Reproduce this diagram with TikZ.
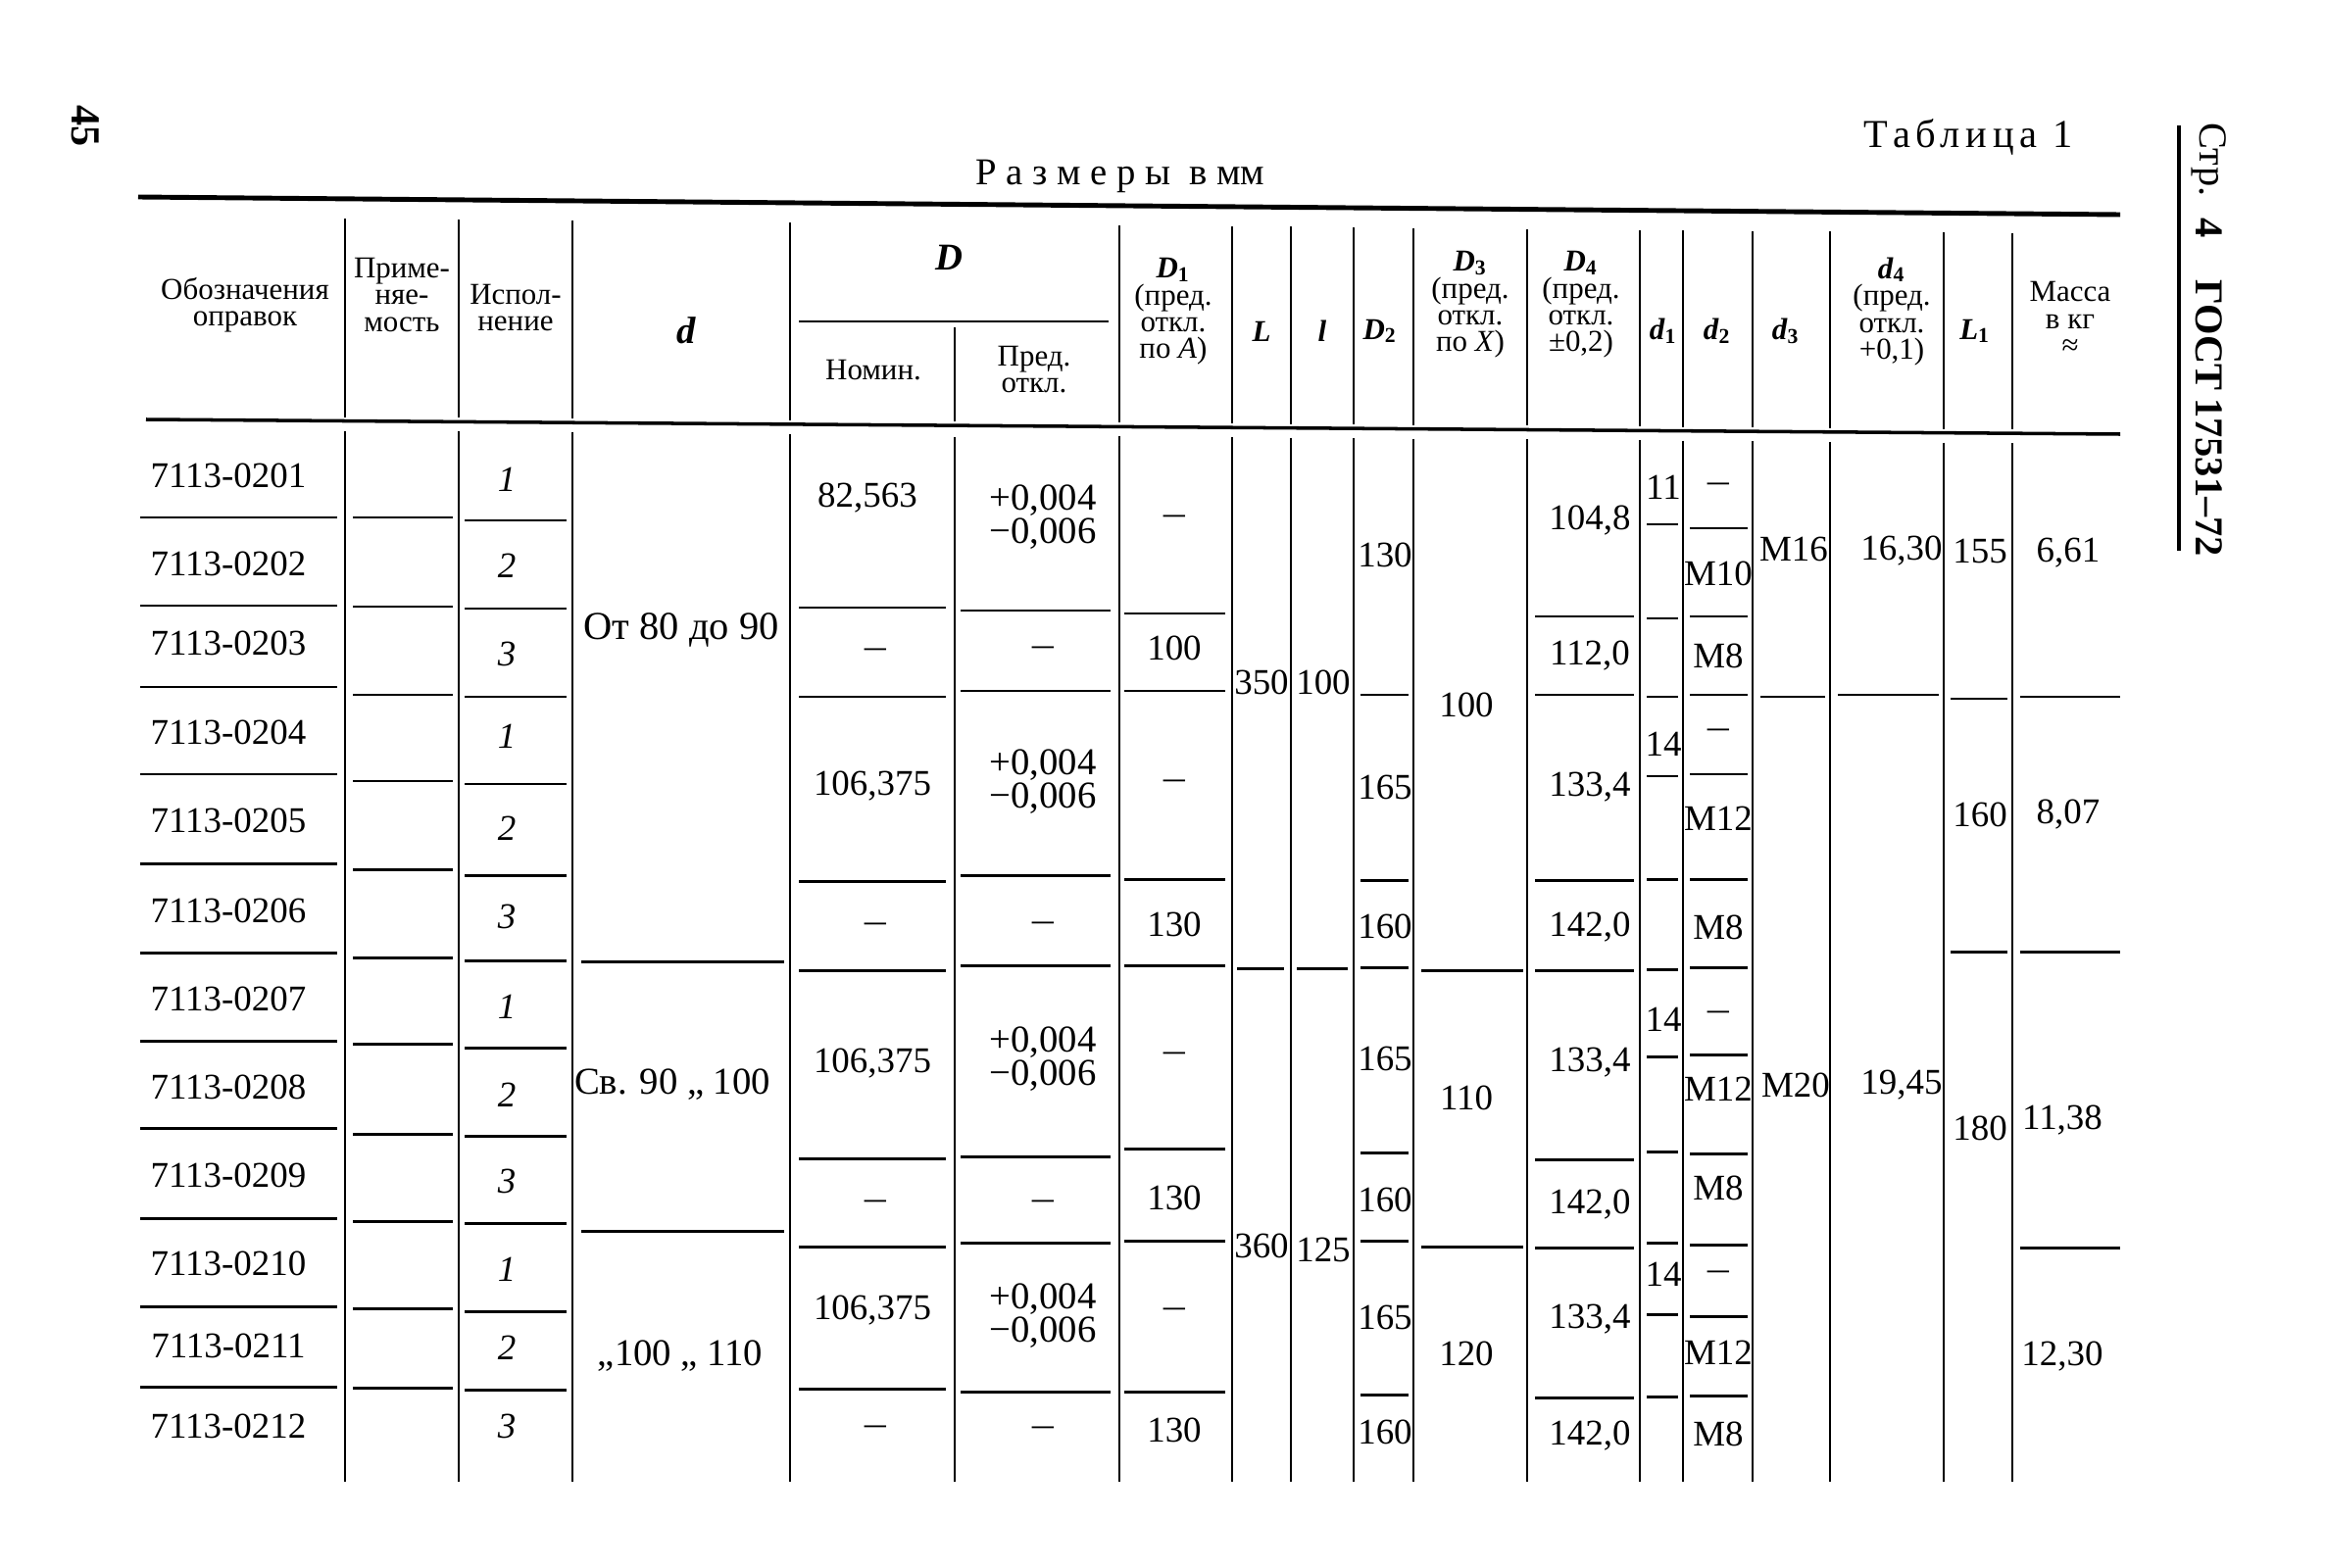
\documentclass[tikz,border=0pt]{standalone}
\usepackage{fontspec}
\usepackage{graphicx}
\setmainfont{Liberation Serif}
\newcommand\cellfont{\fontsize{10.5}{12}\selectfont}
\newcommand\hdfont{\fontsize{8.8}{7.8}\selectfont}
\newcommand\sym[2]{\textbf{\textit{#1}}\textsubscript{\textbf{#2}}}
\newcommand\dash{\scalebox{0.6}[1]{—}}
\tikzset{
  cell/.style={font=\cellfont, inner sep=0pt},
  tol/.style={font=\fontsize{11}{9.7}\selectfont, align=center, inner sep=0pt},
  hd/.style={font=\hdfont, align=center, inner sep=0pt},
  rowline/.style={line width=0.85pt},
  colline/.style={line width=0.7pt},
}

\begin{document}
\begin{tikzpicture}[x=0.01cm, y=-0.01cm]
			%%%%% START %%%%%
			\useasboundingbox (0,0) rectangle (2372,1600);
			
			% page number, title, side heading
			\node[rotate=-90, font=\fontsize{12}{14}\selectfont\bfseries] (pagenum) at (87,129) {45};
			\node[font=\fontsize{11.5}{13}\selectfont\addfontfeature{LetterSpace=14}] (tabl) at (2008,140) {Таблица 1};
			\node[font=\fontsize{11}{13}\selectfont] (razm) at (1143,180) {{\addfontfeature{LetterSpace=25}Размеры в} мм};
			
			\draw[line width=1.1pt] (2223,128) -- (2223,562);
			\node[rotate=-90, font=\fontsize{11.5}{13}\selectfont] (str) at (2254,163) {Стр.};
			\node[rotate=-90, font=\fontsize{11.5}{13}\selectfont\bfseries] (strnum) at (2254,233) {4};
			\node[rotate=-90, font=\fontsize{11.5}{13}\selectfont\bfseries] (gost) at (2254,342) {ГОСТ};
			\node[rotate=-90, font=\fontsize{11.5}{13}\selectfont\bfseries] (gostnum) at (2254,487) {17531\scalebox{0.5}[1]{—}72};
			
			% rules
			\draw[line width=1.4pt] (141,201) -- (2163,219);
			\draw[line width=1pt] (149,428) -- (2163,443);
			\draw[rowline] (815,328) -- (1131,328);
			
			\foreach \x in {352,468,584,806,1142,1257,1317,1381,1442,1558,1673,1717,1788,1867,1983,2053}{
				\pgfmathsetmacro\ya{201+(\x-141)/2022*18+20}
				\pgfmathsetmacro\yb{428+(\x-149)/2014*15-4}
				\pgfmathsetmacro\yc{428+(\x-149)/2014*15+10}
				\draw[colline] (\x,\ya) -- (\x,\yb) (\x,\yc) -- (\x,1512);
			}
			\draw[colline] (974,334) -- (974,430) (974,446) -- (974,1512);
			
			% header
			\node[hd] (hoboz) at (250,311) {Обозначения\\оправок};
			\node[hd] (hprim) at (410,301) {Приме-\\няе-\\мость};
			\node[hd] (hisp) at (526,314) {Испол-\\нение};
			\node[hd, font=\fontsize{11}{12}\selectfont\bfseries\itshape] (hd) at (700,337) {d};
			\node[hd, font=\fontsize{11}{12}\selectfont\bfseries\itshape] (hD) at (968,263) {D};
			\node[hd] (hnom) at (891,378) {Номин.};
			\node[hd] (hpred) at (1055,377) {Пред.\\откл.};
			\node[hd] (hDa) at (1197,318) {\sym{D}{1}\\(пред.\\откл.\\по \textit{A})};
			\node[hd] (hL) at (1287,338) {\textbf{\textit{L}}};
			\node[hd] (hl) at (1349,338) {\textbf{\textit{l}}};
			\node[hd] (hDb) at (1408,338) {\sym{D}{2}};
			\node[hd] (hDc) at (1500,311) {\sym{D}{3}\\(пред.\\откл.\\по \textit{X})};
			\node[hd] (hDd) at (1613,311) {\sym{D}{4}\\(пред.\\откл.\\±0,2)};
			\node[hd] (hda) at (1697,338) {\sym{d}{1}};
			\node[hd] (hdb) at (1752,338) {\sym{d}{2}};
			\node[hd] (hdc) at (1822,338) {\sym{d}{3}};
			\node[hd] (hdd) at (1930,318) {\sym{d}{4}\\(пред.\\откл.\\+0,1)};
			\node[hd] (hLa) at (2015,338) {\sym{L}{1}};
			\node[hd] (hmass) at (2112,325) {Масса\\в кг\\≈};
			
			% row lines, column by column
			\foreach \y in {528,618,701,790,881,972,1062,1151,1243,1333,1415} \draw[rowline] (143,\y) -- (344,\y);
			\foreach \y in {528,619,709,797,887,977,1065,1157,1246,1335,1416} \draw[rowline] (360,\y) -- (462,\y);
			\foreach \y in {531,621,711,800,893,980,1069,1159,1248,1338,1418} \draw[rowline] (474,\y) -- (578,\y);
			\foreach \y in {981,1256} \draw[rowline] (593,\y) -- (800,\y);
			\foreach \y in {620,711,899,990,1182,1272,1417} \draw[rowline] (815,\y) -- (965,\y);
			\foreach \y in {623,705,893,985,1180,1268,1420} \draw[rowline] (980,\y) -- (1133,\y);
			\foreach \y in {626,705,897,985,1172,1266,1420} \draw[rowline] (1147,\y) -- (1250,\y);
			\draw[rowline] (1262,988) -- (1310,988);
			\draw[rowline] (1323,988) -- (1375,988);
			\foreach \y in {709,898,987,1176,1266,1423} \draw[rowline] (1388,\y) -- (1437,\y);
			\foreach \y in {990,1272} \draw[rowline] (1450,\y) -- (1554,\y);
			\foreach \y in {629,709,898,990,1183,1273,1426} \draw[rowline] (1566,\y) -- (1667,\y);
			\foreach \y in {535,631,711,792,897,989,1078,1175,1268,1341,1425} \draw[rowline] (1680,\y) -- (1712,\y);
			\foreach \y in {539,629,709,790,897,987,1076,1177,1270,1343,1424} \draw[rowline] (1724,\y) -- (1783,\y);
			\draw[rowline] (1796,711) -- (1862,711);
			\draw[rowline] (1875,709) -- (1978,709);
			\foreach \y in {713,971} \draw[rowline] (1990,\y) -- (2048,\y);
			\foreach \y in {711,971,1273} \draw[rowline] (2061,\y) -- (2163,\y);
			
			% designations and variants
			\foreach \n/\y [count=\i] in {0201/485,0202/575,0203/656,0204/747,0205/837,0206/929,0207/1019,0208/1109,0209/1199,0210/1289,0211/1373,0212/1455}
				\node[cell] (oboz\i) at (233,\y) {7113-\n};
			\foreach \v/\y [count=\i] in {1/489,2/577,3/667,1/751,2/845,3/935,1/1027,2/1117,3/1205,1/1295,2/1375,3/1455}
				\node[cell, font=\cellfont\itshape] (isp\i) at (517,\y) {\v};
			
			% d
			\node[cell, font=\fontsize{11.5}{12}\selectfont] (da) at (695,643) {От 80 до 90};
			\node[cell, font=\fontsize{11}{12}\selectfont] (db) at (686,1107) {Св. 90 „ 100};
			\node[cell, font=\fontsize{11}{12}\selectfont] (dc) at (694,1384) {„100 „ 110};
			
			% D
			\node[cell] (nom1) at (885,508) {82,563};
			\node[cell] (nom2) at (893,667) {\dash};
			\node[cell] (nom3) at (890,802) {106,375};
			\node[cell] (nom4) at (893,947) {\dash};
			\node[cell] (nom5) at (890,1085) {106,375};
			\node[cell] (nom6) at (893,1230) {\dash};
			\node[cell] (nom7) at (890,1337) {106,375};
			\node[cell] (nom8) at (893,1460) {\dash};
			\node[tol] (pred1) at (1064,528) {+0,004\\−0,006};
			\node[cell] (pred2) at (1064,665) {\dash};
			\node[tol] (pred3) at (1064,798) {+0,004\\−0,006};
			\node[cell] (pred4) at (1064,946) {\dash};
			\node[tol] (pred5) at (1064,1081) {+0,004\\−0,006};
			\node[cell] (pred6) at (1064,1230) {\dash};
			\node[tol] (pred7) at (1064,1343) {+0,004\\−0,006};
			\node[cell] (pred8) at (1064,1461) {\dash};
			
			% D1
			\node[cell] (Da1) at (1198,531) {\dash};
			\node[cell] (Da2) at (1198,661) {100};
			\node[cell] (Da3) at (1198,801) {\dash};
			\node[cell] (Da4) at (1198,943) {130};
			\node[cell] (Da5) at (1198,1079) {\dash};
			\node[cell] (Da6) at (1198,1222) {130};
			\node[cell] (Da7) at (1198,1340) {\dash};
			\node[cell] (Da8) at (1198,1459) {130};
			
			% L, l
			\node[cell] (La) at (1287,696) {350};
			\node[cell] (Lb) at (1287,1271) {360};
			\node[cell] (la) at (1350,696) {100};
			\node[cell] (lb) at (1350,1275) {125};
			
			% D2
			\node[cell] (Db1) at (1413,566) {130};
			\node[cell] (Db2) at (1413,803) {165};
			\node[cell] (Db3) at (1413,945) {160};
			\node[cell] (Db4) at (1413,1080) {165};
			\node[cell] (Db5) at (1413,1224) {160};
			\node[cell] (Db6) at (1413,1344) {165};
			\node[cell] (Db7) at (1413,1461) {160};
			
			% D3
			\node[cell] (Dc1) at (1496,719) {100};
			\node[cell] (Dc2) at (1496,1120) {110};
			\node[cell] (Dc3) at (1496,1381) {120};
			
			% D4
			\node[cell] (Dd1) at (1622,531) {104,8};
			\node[cell] (Dd2) at (1622,669) {112,0};
			\node[cell] (Dd3) at (1622,803) {133,4};
			\node[cell] (Dd4) at (1622,946) {142,0};
			\node[cell] (Dd5) at (1622,1084) {133,4};
			\node[cell] (Dd6) at (1622,1229) {142,0};
			\node[cell] (Dd7) at (1622,1346) {133,4};
			\node[cell] (Dd8) at (1622,1465) {142,0};
			
			% d1, d2
			\node[cell] (da1) at (1697,497) {11};
			\node[cell] (da2) at (1697,759) {14};
			\node[cell] (da3) at (1697,1040) {14};
			\node[cell] (da4) at (1697,1300) {14};
			\node[cell] (db1) at (1753,498) {\dash};
			\node[cell] (db2) at (1753,585) {M10};
			\node[cell] (db3) at (1753,669) {M8};
			\node[cell] (db4) at (1753,749) {\dash};
			\node[cell] (db5) at (1753,835) {M12};
			\node[cell] (db6) at (1753,946) {M8};
			\node[cell] (db7) at (1753,1037) {\dash};
			\node[cell] (db8) at (1753,1111) {M12};
			\node[cell] (db9) at (1753,1212) {M8};
			\node[cell] (db10) at (1753,1302) {\dash};
			\node[cell] (db11) at (1753,1380) {M12};
			\node[cell] (db12) at (1753,1463) {M8};
			
			% d3, d4, L1, mass
			\node[cell] (dc1) at (1830,560) {M16};
			\node[cell] (dc2) at (1832,1107) {M20};
			\node[cell] (dd1) at (1940,562) {16,30};
			\node[cell] (dd2) at (1940,1107) {19,45};
			\node[cell] (Lc1) at (2020,562) {155};
			\node[cell] (Lc2) at (2020,831) {160};
			\node[cell] (Lc3) at (2020,1151) {180};
			\node[cell] (ms1) at (2110,564) {6,61};
			\node[cell] (ms2) at (2110,831) {8,07};
			\node[cell] (ms3) at (2104,1143) {11,38};
			\node[cell] (ms4) at (2104,1384) {12,30};
			
			%%%%% END %%%%%
\end{tikzpicture}
\end{document}
